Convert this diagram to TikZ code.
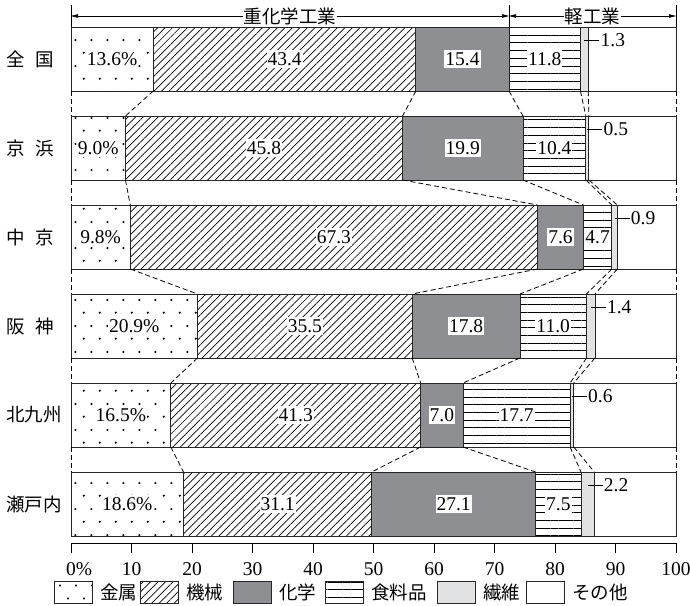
\documentclass[tikz,border=0pt]{standalone}
\usepackage{fontspec}
\newfontfamily\jp{Noto Sans CJK JP}
\newfontfamily\num{Liberation Serif}
\usetikzlibrary{patterns,patterns.meta,arrows.meta,positioning}

\definecolor{chemgray}{RGB}{142,143,147}
\definecolor{fibergray}{RGB}{225,226,228}
\newcommand\numsize{\num\fontsize{19.5}{21}\selectfont}
\newcommand\jpsize{\jp\fontsize{18.5}{20}\selectfont}

% sparse staggered dots for the metal segments
\pgfdeclarepatternformonly{sparsedots}{\pgfqpoint{0pt}{0pt}}{\pgfqpoint{16pt}{26pt}}{\pgfqpoint{16pt}{26pt}}{%
  \pgfpathcircle{\pgfqpoint{4pt}{6.5pt}}{1.2pt}%
  \pgfpathcircle{\pgfqpoint{12pt}{19.5pt}}{1.2pt}%
  \pgfusepath{fill}}

\tikzset{
  seg/.style={draw=black!85, line width=0.8pt},
  kinzoku/.style={seg, pattern=sparsedots},
  kikai/.style={seg, pattern={Lines[angle=45,distance=5.3pt,line width=0.7pt]}},
  kagaku/.style={seg, fill=chemgray},
  shokuryo/.style={seg, pattern={Lines[angle=0,distance=7.7pt,line width=0.8pt]}},
  seni/.style={seg, fill=fibergray},
  sonota/.style={seg, fill=white},
  val/.style={fill=white, inner xsep=1pt, inner ysep=2pt, font=\numsize},
  conn/.style={line width=0.8pt, dash pattern=on 5pt off 3pt},
  hdr/.style={{Triangle[length=7pt,width=3.5pt]}-{Triangle[length=7pt,width=3.5pt]}, line width=0.6pt},
  hdrlab/.style={fill=white, inner sep=1pt, font=\jpsize},
  rowlab/.style={anchor=west, inner sep=0pt, font=\jpsize},
  ticklab/.style={anchor=base, inner sep=0pt, font=\numsize},
  legbox/.style={minimum width=38pt, minimum height=22pt, inner sep=0pt, anchor=west},
  legtxt/.style={inner sep=0pt, font=\jpsize}
}

\begin{document}
\begin{tikzpicture}[x=1pt, y=-1pt]
    \useasboundingbox (0,0) rectangle (690,605);
    \fill[white] (0,0) rectangle (690,605);

    % bars
    \foreach \area/\va/\vb/\vc/\vd/\ve [count=\r] in {
        全\hspace{0.6em}国/13.6/43.4/15.4/11.8/1.3,
        京\hspace{0.6em}浜/9.0/45.8/19.9/10.4/0.5,
        中\hspace{0.6em}京/9.8/67.3/7.6/4.7/0.9,
        阪\hspace{0.6em}神/20.9/35.5/17.8/11.0/1.4,
        北九州/16.5/41.3/7.0/17.7/0.6,
        瀬戸内/18.6/31.1/27.1/7.5/2.2}{
        \pgfmathsetmacro\ytop{27+89*(\r-1)}
        \pgfmathsetmacro\ybot{\ytop+64}
        \pgfmathsetmacro\ymid{\ytop+32}
        \pgfmathsetmacro\xa{71+6.05*\va}
        \pgfmathsetmacro\xb{\xa+6.05*\vb}
        \pgfmathsetmacro\xc{\xb+6.05*\vc}
        \pgfmathsetmacro\xd{\xc+6.05*\vd}
        \pgfmathsetmacro\xe{\xd+6.05*\ve}
        \draw[kinzoku] (71,\ytop) rectangle (\xa,\ybot);
        \draw[kikai] (\xa,\ytop) rectangle (\xb,\ybot);
        \draw[kagaku] (\xb,\ytop) rectangle (\xc,\ybot);
        \draw[shokuryo] (\xc,\ytop) rectangle (\xd,\ybot);
        \draw[seni] (\xd,\ytop) rectangle (\xe,\ybot);
        \draw[sonota] (\xe,\ytop) rectangle (676,\ybot);
        \foreach \x [count=\k from 0] in {71,\xa,\xb,\xc,\xd,\xe,676}{
            \coordinate (t\r-\k) at (\x,\ytop);
            \coordinate (b\r-\k) at (\x,\ybot);
        }
        \node[rowlab] (area\r) at (6,\ymid) {\area};
        \node[val] (v\r-1) at ({(71+\xa)/2},\ymid) {\va\%};
        \node[val] (v\r-2) at ({(\xa+\xb)/2},\ymid) {\vb};
        \node[val] (v\r-3) at ({(\xb+\xc)/2},\ymid) {\vc};
        \node[val] (v\r-4) at ({(\xc+\xd)/2},\ymid) {\vd};
        \draw[line width=0.6pt] ({(\xd+\xe)/2},\ytop+13) -- ++(15,0)
            node[anchor=west, inner sep=1pt, font=\numsize] (v\r-5) {\ve};
    }

    % dashed links between the bars
    \foreach \r [evaluate=\r as \n using int(\r+1)] in {1,...,5}
        \foreach \k in {0,...,6}
            \draw[conn] (b\r-\k) -- (t\n-\k);

    % header
    \foreach \k in {0,3,6}{
        \draw[line width=0.8pt] (t1-\k) -- ++(0,-22);
        \path (t1-\k) ++(0,-11) coordinate (a\k);
    }
    \draw[hdr] (a0) -- node[hdrlab] (heavy) {重化学工業} (a3);
    \draw[hdr] (a3) -- node[hdrlab] (light) {軽工業} (a6);

    % axis
    \draw[line width=0.8pt] (71,543) -- (676,543);
    \foreach \v in {0,10,...,100}{
        \draw[line width=0.8pt] ({71+6.05*\v},543) -- ++(0,10);
        \node[ticklab] (n\v) at ({71+6.05*\v},575) {\ifnum\v=0 0\rlap{\%}\else\v\fi};
    }

    % legend
    \foreach \sty/\txt/\x in {kinzoku/金属/54, kikai/機械/140, kagaku/化学/233,
        shokuryo/食料品/325, seni/繊維/437, sonota/その他/526}{
        \node[legbox, \sty] (lb-\sty) at (\x,592) {};
        \node[legtxt, right=7pt of lb-\sty] (lt-\sty) {\txt};
    }
\end{tikzpicture}
\end{document}
